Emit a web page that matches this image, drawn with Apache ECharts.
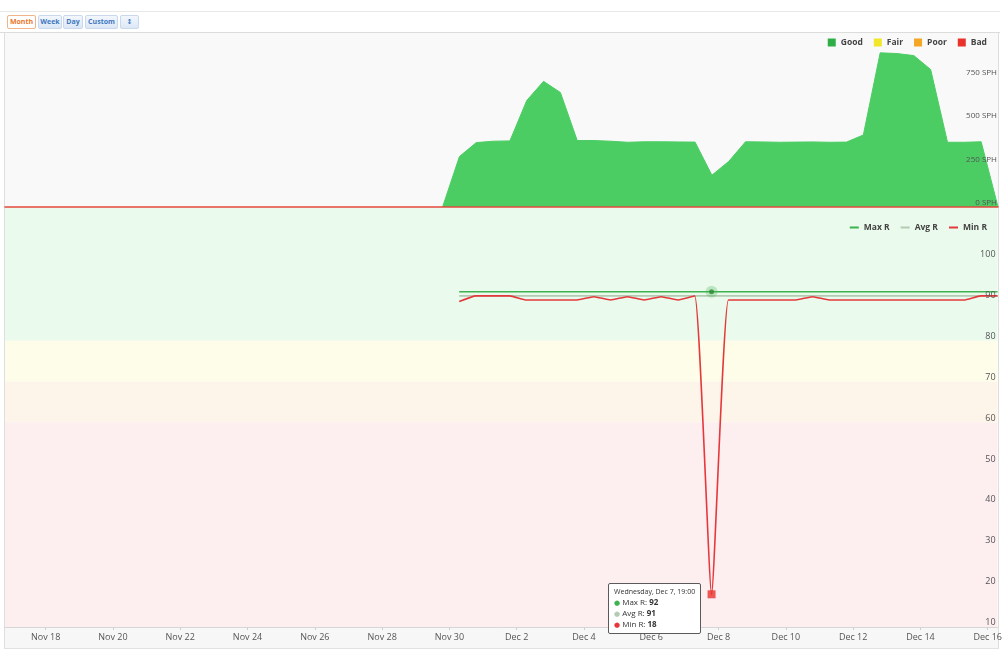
<!DOCTYPE html>
<html><head><meta charset="utf-8">
<script src="https://cdn.jsdelivr.net/npm/echarts@6/dist/echarts.min.js"></script>
<style>
html,body{margin:0;padding:0;background:#fff;width:1005px;height:662px;overflow:hidden;font-family:"Open Sans","DejaVu Sans",sans-serif;}
#topbar{position:absolute;left:0;top:11px;width:1000px;height:20px;border-top:1px solid #e8e8e8;border-bottom:1px solid #dcdcdc;}
.btn{position:absolute;top:3px;height:12px;line-height:12px;font-size:7px;font-weight:bold;color:#3f77c0;background:linear-gradient(#f3f7fd,#dce7f6);border:1px solid #c9d8ec;border-radius:2px;text-align:center;}
.btn.sel{color:#e8772e;background:#fff;border-color:#f0b48a;}
#frameL{position:absolute;left:4px;top:33px;width:1px;height:615px;background:#dedede;}
#frameR{position:absolute;left:998px;top:33px;width:1px;height:615px;background:#dedede;}
#xband{position:absolute;left:4px;top:627px;width:995px;height:21px;background:#f7f7f7;border-bottom:1px solid #e2e2e2;}
#chart{position:absolute;left:0;top:0;width:1005px;height:662px;}
</style></head><body>
<div id="topbar">
  <div class="btn sel" style="left:7px;width:27px;">Month</div>
  <div class="btn" style="left:38px;width:22px;">Week</div>
  <div class="btn" style="left:63px;width:18px;">Day</div>
  <div class="btn" style="left:85px;width:31px;">Custom</div>
  <div class="btn" style="left:120px;width:17px;">↕</div>
</div>
<div id="xband"></div>
<div id="frameL"></div>
<div id="frameR"></div>
<div id="chart"></div>
<script>
// ---------- data ----------
const times = [
 '2016-11-29 19:00','2016-11-30 07:00','2016-11-30 19:00','2016-12-01 07:00','2016-12-01 19:00',
 '2016-12-02 07:00','2016-12-02 19:00','2016-12-03 07:00','2016-12-03 19:00','2016-12-04 07:00',
 '2016-12-04 19:00','2016-12-05 07:00','2016-12-05 19:00','2016-12-06 07:00','2016-12-06 19:00',
 '2016-12-07 07:00','2016-12-07 19:00','2016-12-08 07:00','2016-12-08 19:00','2016-12-09 07:00',
 '2016-12-09 19:00','2016-12-10 07:00','2016-12-10 19:00','2016-12-11 07:00','2016-12-11 19:00',
 '2016-12-12 07:00','2016-12-12 19:00','2016-12-13 07:00','2016-12-13 19:00','2016-12-14 07:00',
 '2016-12-14 19:00','2016-12-15 07:00','2016-12-15 19:00','2016-12-16 07:00'
];
const sphGood = [0,290,370,378,380,612,722,658,382,382,378,372,375,375,374,373,183,262,375,374,372,373,374,372,373,414,886,882,870,790,372,372,375,0];
const maxR = [null,92,92,92,92,92,92,92,92,92,92,92,92,92,92,92,92,92,92,92,92,92,92,92,92,92,92,92,92,92,92,92,92,92];
const avgR = [null,91,91,91,91,91,91,91,91,91,91,91,91,91,91,91,91,91,91,91,91,91,91,91,91,91,91,91,91,91,91,91,91,91];
const minR = [null,89.6,91,91,91,90,90,90,90,90.8,90,90.8,90,90.8,90,91,18,90,90,90,90,90,90.8,90,90,90,90,90,90,90,90,90,91,91];
const xTickDates = ['2016-11-18','2016-11-20','2016-11-22','2016-11-24','2016-11-26','2016-11-28','2016-11-30',
 '2016-12-02','2016-12-04','2016-12-06','2016-12-08','2016-12-10','2016-12-12','2016-12-14','2016-12-16'];
const xRange = ['2016-11-16 19:00','2016-12-16 07:00'];
const monthNames = ['Jan','Feb','Mar','Apr','May','Jun','Jul','Aug','Sep','Oct','Nov','Dec'];
const dayNames = ['Sunday','Monday','Tuesday','Wednesday','Thursday','Friday','Saturday'];
const sphTicks = [0,250,500,750];
const rTicks = [10,20,30,40,50,60,70,80,90,100];
const bands = [[80,112.5,'#eafaec'],[70,80,'#fdfdea'],[60,70,'#fdf5ea'],[10,60,'#fdeef0']];
const hoverTime = '2016-12-07 19:00';

// ---------- helpers ----------
function T(s){const p=s.split(' ');const d=p[0].split('-').map(Number);const h=(p[1]||'00:00').split(':').map(Number);return Date.UTC(d[0],d[1]-1,d[2],h[0],h[1]);}
const ts = times.map(T);
const hoverIdx = times.indexOf(hoverTime);
const zip = arr => ts.map((t,i)=>[t,arr[i]]);
const xMin = T(xRange[0]), xMax = T(xRange[1]);
const tickVals = xTickDates.map(T);
function fmtDay(v){const d=new Date(v);return monthNames[d.getUTCMonth()]+' '+d.getUTCDate();}
function fmtFull(v){const d=new Date(v);const hh=String(d.getUTCHours()).padStart(2,'0');const mm=String(d.getUTCMinutes()).padStart(2,'0');return dayNames[d.getUTCDay()]+', '+fmtDay(v)+', '+hh+':'+mm;}

const chart = echarts.init(document.getElementById('chart'));
const C = {good:'#4ccd64', goodLeg:'#2fae48', fair:'#f1e62a', poor:'#f5a623', bad:'#e8322b', max:'#3db24e', avg:'#b2cbb2', min:'#e5383b'};
const legText = {fontSize:8.5,fontWeight:'bold',color:'#444'};

const option = {
  animation:false,
  backgroundColor:'transparent',
  textStyle:{fontFamily:'"Open Sans","DejaVu Sans",sans-serif'},
  grid:[
    {left:5,right:7,top:33,height:174,show:true,backgroundColor:'#f9f9f9',borderWidth:0},
    {left:5,right:7,top:208,height:419,show:false}
  ],
  legend:[
    {data:[{name:'Good',itemStyle:{color:C.goodLeg}},{name:'Fair'},{name:'Poor'},{name:'Bad'}],
     icon:'rect',itemWidth:8,itemHeight:8,itemStyle:{borderWidth:0},right:18,top:38,itemGap:11,textStyle:legText,padding:0},
    {data:['Max R','Avg R','Min R'],icon:'rect',itemWidth:9,itemHeight:2,right:18,top:223,itemGap:11,textStyle:legText,padding:0}
  ],
  xAxis:[
    {type:'value',gridIndex:0,min:xMin,max:xMax,axisLabel:{show:false},axisTick:{show:false},splitLine:{show:false},
     axisLine:{show:true,lineStyle:{color:'#e2473a',width:1.5}},z:10},
    {type:'value',gridIndex:1,min:xMin,max:xMax,splitLine:{show:false},
     axisLine:{show:true,lineStyle:{color:'#d6d6d6'}},
     axisTick:{show:true,customValues:tickVals,length:3,lineStyle:{color:'#cfcfcf'}},
     axisLabel:{customValues:tickVals,formatter:fmtDay,fontSize:9,color:'#555',margin:6}}
  ],
  yAxis:[
    {type:'value',gridIndex:0,position:'right',min:0,max:1000,interval:250,splitLine:{show:false},z:10,
     axisLine:{show:false},axisTick:{show:false},
     axisLabel:{inside:true,margin:1,fontSize:8,color:'#555',verticalAlign:'bottom',
       formatter:v=>sphTicks.indexOf(v)>=0?v+' SPH':''}},
    {type:'value',gridIndex:1,position:'right',min:10,max:112.5,interval:10,splitLine:{show:false},z:10,
     axisLine:{show:false},axisTick:{show:false},
     axisLabel:{inside:true,margin:2,fontSize:9,color:'#555',verticalAlign:'bottom',showMaxLabel:false,
       formatter:v=>rTicks.indexOf(v)>=0?String(v):''}}
  ],
  tooltip:{
    trigger:'item',triggerOn:'none',alwaysShowContent:true,transitionDuration:0,
    position:[608,583],backgroundColor:'#fff',borderColor:'#5a5a5a',borderWidth:1,padding:[3,5],
    textStyle:{fontSize:8,color:'#333'},
    extraCssText:'box-shadow:none;border-radius:2px;line-height:10px;',
    formatter:function(){
      const i=hoverIdx;
      const dot=c=>'<span style="color:'+c+';font-size:7px;">●</span> ';
      return '<div style="font-size:7px;color:#333;">'+fmtFull(ts[i])+'</div>'+
        '<div>'+dot(C.max)+'Max R: <b>'+maxR[i]+'</b></div>'+
        '<div>'+dot(C.avg)+'Avg R: <b>'+avgR[i]+'</b></div>'+
        '<div>'+dot(C.min)+'Min R: <b>'+minR[i]+'</b></div>';
    }
  },
  series:[
    {name:'Good',type:'line',xAxisIndex:0,yAxisIndex:0,data:zip(sphGood),symbol:'none',
     lineStyle:{color:C.good,width:1},itemStyle:{color:C.good},areaStyle:{color:C.good,opacity:1},z:2},
    {name:'Fair',type:'line',xAxisIndex:0,yAxisIndex:0,data:[],itemStyle:{color:C.fair}},
    {name:'Poor',type:'line',xAxisIndex:0,yAxisIndex:0,data:[],itemStyle:{color:C.poor}},
    {name:'Bad',type:'line',xAxisIndex:0,yAxisIndex:0,data:[],itemStyle:{color:C.bad}},
    {name:'Max R',type:'line',xAxisIndex:1,yAxisIndex:1,data:zip(maxR),symbol:'none',
     lineStyle:{color:C.max,width:1.6},itemStyle:{color:C.max},z:4,
     markArea:{silent:true,z:0,data:bands.map(b=>[{yAxis:b[0],itemStyle:{color:b[2]}},{yAxis:b[1]}])}},
    {name:'Avg R',type:'line',xAxisIndex:1,yAxisIndex:1,data:zip(avgR),symbol:'none',
     lineStyle:{color:C.avg,width:1.6},itemStyle:{color:C.avg},z:3},
    {name:'Min R',type:'line',xAxisIndex:1,yAxisIndex:1,data:zip(minR),symbol:'none',smooth:0.15,
     lineStyle:{color:C.min,width:1.6},itemStyle:{color:C.min},z:5},
    {name:'halo',type:'scatter',xAxisIndex:1,yAxisIndex:1,data:[[ts[hoverIdx],maxR[hoverIdx]]],
     symbolSize:12,itemStyle:{color:'rgba(70,180,80,0.35)'},z:6,silent:true},
    {name:'hoverDot',type:'scatter',xAxisIndex:1,yAxisIndex:1,data:[[ts[hoverIdx],maxR[hoverIdx]]],
     symbolSize:5,itemStyle:{color:'#2c8a3a'},z:7,silent:true},
    {name:'minMark',type:'scatter',xAxisIndex:1,yAxisIndex:1,data:[[ts[hoverIdx],minR[hoverIdx]]],
     symbol:'rect',symbolSize:8,itemStyle:{color:C.bad},z:8}
  ]
};
chart.setOption(option);
chart.dispatchAction({type:'showTip',seriesIndex:9,dataIndex:0});
</script>
</body></html>
